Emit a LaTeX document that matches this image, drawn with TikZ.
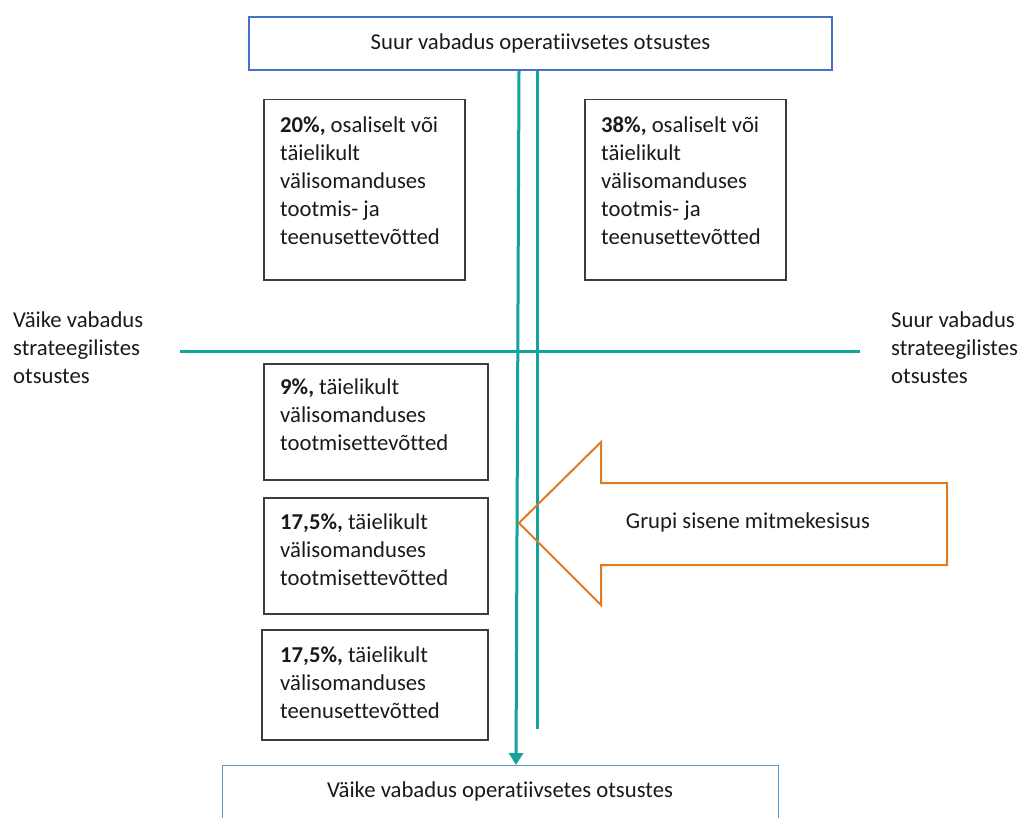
\documentclass[tikz,border=0pt]{standalone}
\usepackage{fontspec}
\setmainfont{Carlito}[Ligatures=NoCommon]
\usetikzlibrary{arrows.meta}
\definecolor{frameblue}{HTML}{4472C4}
\definecolor{lightblue}{HTML}{5B9BD5}
\definecolor{axisteal}{HTML}{14A29C}
\definecolor{arroworange}{HTML}{E07B24}
\definecolor{boxgray}{HTML}{3C3C3C}
\definecolor{inktext}{HTML}{1A1A1A}
\begin{document}
\begin{tikzpicture}[x=1pt,y=-1pt,
  every node/.style={font=\fontsize{22.7}{28}\selectfont, text=inktext},
  titlebox/.style={draw=frameblue, line width=2pt, minimum width=583pt, minimum height=53pt, inner sep=0pt},
  basebox/.style={draw=lightblue, line width=1pt, minimum width=556pt, minimum height=70pt, inner sep=0pt, anchor=north},
  infobox/.style={draw=boxgray, line width=1.5pt, inner sep=0pt, anchor=north west},
  boxtext/.style={align=left, inner sep=0pt, anchor=north west},
  sidetext/.style={align=left, inner sep=0pt, anchor=north west},
  axis/.style={draw=axisteal, line width=3pt},
  pusharrow/.style={draw=arroworange, line width=2pt, line join=miter}
]
\useasboundingbox (0,0) rectangle (1022,818);
\clip (0,0) rectangle (1022,818);

% vertical extremes of the chart
\node[titlebox] (top) at (540.5,43.5) {Suur vabadus operatiivsetes otsustes};
\node[basebox] (bottom) at (500,765) {};
\node[anchor=base, inner sep=0pt] (bottomlabel) at (500,797) {Väike vabadus operatiivsetes otsustes};

% horizontal extremes
\node[sidetext] (left) at (13,312) {Väike vabadus\\strateegilistes\\otsustes};
\node[sidetext] (right) at (891,312) {Suur vabadus\\strateegilistes\\otsustes};

% axes
\coordinate (hl) at (180,351);
\coordinate (hr) at (860,351);
\coordinate (v2end) at (537,729);
\draw[axis] (hl) -- (hr);
\draw[axis] ([xshift=-3.5pt]top.south) -- (v2end);
\draw[axis, -{Triangle[length=12pt,width=14pt]}] ([xshift=-21.5pt]top.south) -- ([xshift=16pt]bottom.north);

% share boxes
\node[infobox, minimum width=201pt, minimum height=180pt] (b1) at (263,99) {};
\node[boxtext] (t1) at ([shift={(17,18)}]b1.north west)
  {\textbf{20\%,} osaliselt või\\täielikult\\välisomanduses\\tootmis- ja\\teenusettevõtted};

\node[infobox, minimum width=201pt, minimum height=180pt] (b2) at (584,99) {};
\node[boxtext] (t2) at ([shift={(17,18)}]b2.north west)
  {\textbf{38\%,} osaliselt või\\täielikult\\välisomanduses\\tootmis- ja\\teenusettevõtted};

\node[infobox, minimum width=224pt, minimum height=116pt] (b3) at (263,363) {};
\node[boxtext] (t3) at ([shift={(17,16)}]b3.north west)
  {\textbf{9\%,} täielikult\\välisomanduses\\tootmisettevõtted};

\node[infobox, minimum width=224pt, minimum height=116pt] (b4) at (263,497) {};
\node[boxtext] (t4) at ([shift={(17,17)}]b4.north west)
  {\textbf{17,5\%,} täielikult\\välisomanduses\\tootmisettevõtted};

\node[infobox, minimum width=226pt, minimum height=110pt] (b5) at (261,629) {};
\node[boxtext] (t5) at ([shift={(19,18)}]b5.north west)
  {\textbf{17,5\%,} täielikult\\välisomanduses\\teenusettevõtted};

% block arrow
\draw[pusharrow] (519,523) -- (601,442) -- (601,483) -- (947,483) -- (947,565)
  -- (601,565) -- (601,605) -- cycle;
\node[inner sep=0pt] (push) at (748,522) {Grupi sisene mitmekesisus};
\end{tikzpicture}
\end{document}
